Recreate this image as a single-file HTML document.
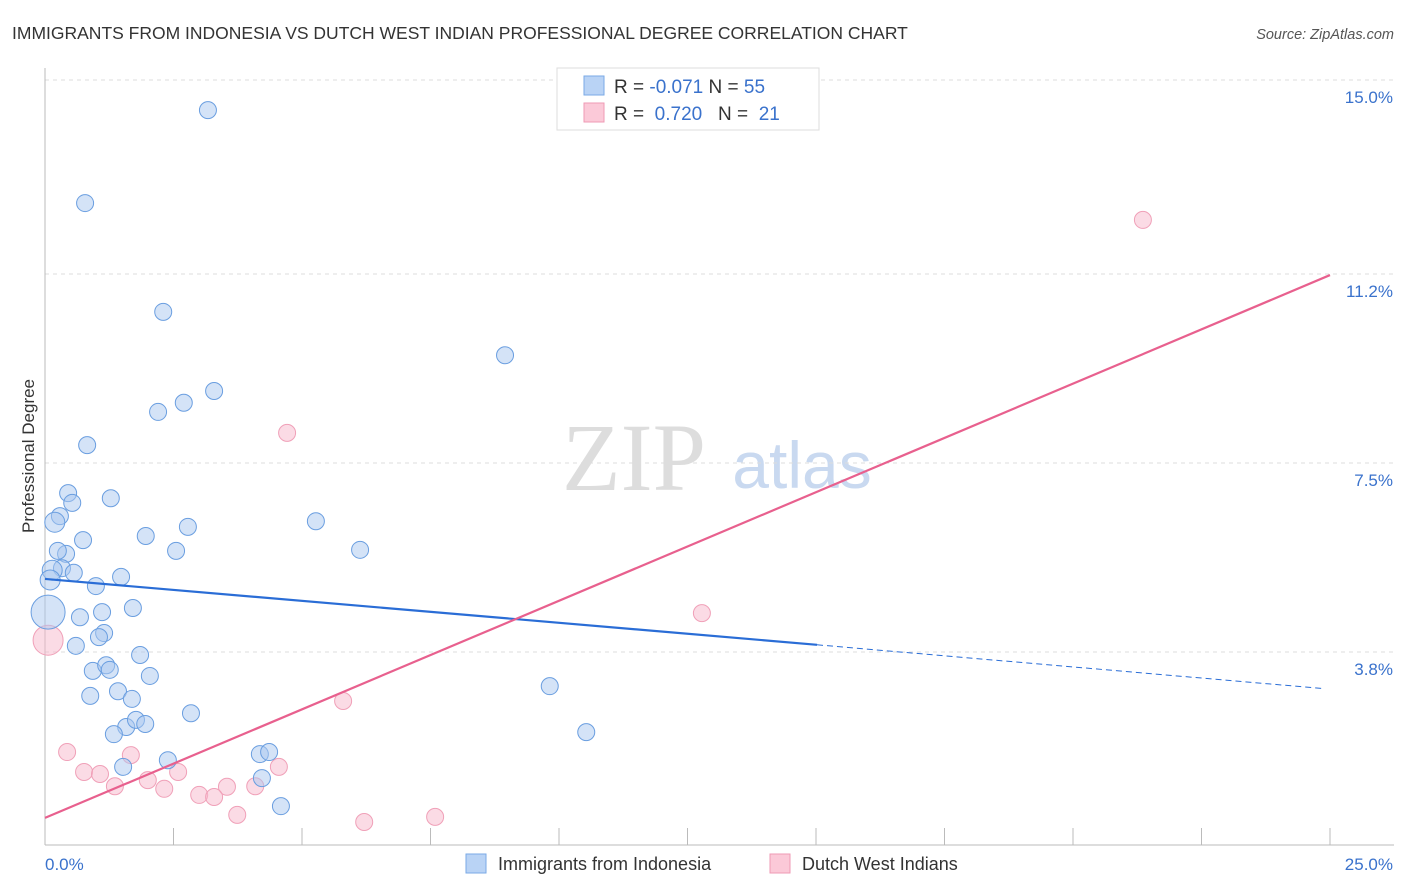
<!DOCTYPE html>
<html><head><meta charset="utf-8"><style>
body{margin:0;background:#fff;font-family:"Liberation Sans",sans-serif;}
svg{display:block}
</style></head><body>
<svg id="chart" width="1406" height="892" xmlns="http://www.w3.org/2000/svg">
<text x="12" y="39" font-size="17.5" fill="#333">IMMIGRANTS FROM INDONESIA VS DUTCH WEST INDIAN PROFESSIONAL DEGREE CORRELATION CHART</text>
<text x="1394" y="39" font-size="14.5" fill="#555" font-style="italic" text-anchor="end">Source: ZipAtlas.com</text>
<g>
<text x="634" y="490" font-size="96" fill="#ddd" font-family="Liberation Serif,serif" text-anchor="middle">ZIP</text>
<text x="802" y="488" font-size="66" fill="#c9d9f0" text-anchor="middle">atlas</text>
</g>
<g id="grid"></g>
<g id="axes"></g>
<g id="pts"></g>
<g id="lines"></g>
<text transform="translate(34,456) rotate(-90)" font-size="17" fill="#333" text-anchor="middle">Professional Degree</text>
<g>
<rect x="557" y="68" width="262" height="62" fill="#fff" stroke="#ddd"/>
<rect x="584" y="76" width="20" height="19" fill="#b9d3f5" stroke="#7aaae6"/>
<rect x="584" y="103" width="20" height="19" fill="#fbc9d8" stroke="#ef9ab4"/>
<text x="614" y="93" font-size="19" fill="#333">R = <tspan fill="#3a72cc">-0.071</tspan>   N = <tspan fill="#3a72cc">55</tspan></text>
<text x="614" y="120" font-size="19" fill="#333" xml:space="preserve">R =  <tspan fill="#3a72cc">0.720</tspan>   N =  <tspan fill="#3a72cc">21</tspan></text>
</g>
<g>
<rect x="466" y="854" width="20" height="19" fill="#b9d3f5" stroke="#7aaae6"/>
<text x="498" y="870" font-size="18" fill="#333">Immigrants from Indonesia</text>
<rect x="770" y="854" width="20" height="19" fill="#fbc9d8" stroke="#ef9ab4"/>
<text x="802" y="870" font-size="18" fill="#333">Dutch West Indians</text>
</g>
</svg>
<script>
const yTicks=[15.0,11.2,7.5,3.8];
const yTickLabels=["15.0%","11.2%","7.5%","3.8%"];
const xTickValues=[0,2.5,5,7.5,10,12.5,15,17.5,20,22.5,25];
const xEndLabels=["0.0%","25.0%"];
const blueX=[3.17,0.78,2.30,8.95,3.29,2.20,2.70,0.82,0.45,0.53,1.28,0.29,0.19,2.78,5.27,0.74,1.96,0.41,0.25,2.55,6.13,0.33,0.56,0.14,1.48,0.99,0.10,0.06,0.68,1.11,1.71,1.15,1.05,0.60,1.85,0.93,1.19,1.26,2.04,0.88,1.42,1.69,9.82,2.84,1.58,1.77,1.95,1.34,10.53,2.39,4.18,4.36,1.52,4.22,4.59];
const blueY=[14.41,12.59,10.46,9.61,8.91,8.50,8.68,7.85,6.91,6.72,6.81,6.46,6.34,6.25,6.36,5.99,6.07,5.72,5.78,5.78,5.80,5.44,5.35,5.40,5.27,5.09,5.21,4.58,4.48,4.58,4.66,4.17,4.09,3.92,3.74,3.43,3.54,3.45,3.33,2.94,3.03,2.88,3.13,2.60,2.33,2.47,2.39,2.19,2.23,1.68,1.80,1.84,1.55,1.33,0.78];
const blueR=[8.5,8.5,8.5,8.5,8.5,8.5,8.5,8.5,8.5,8.5,8.5,8.5,10,8.5,8.5,8.5,8.5,8.5,8.5,8.5,8.5,8.5,8.5,10,8.5,8.5,10,17,8.5,8.5,8.5,8.5,8.5,8.5,8.5,8.5,8.5,8.5,8.5,8.5,8.5,8.5,8.5,8.5,8.5,8.5,8.5,8.5,8.5,8.5,8.5,8.5,8.5,8.5,8.5];
const pinkX=[21.36,4.71,12.78,0.06,5.80,0.43,1.67,0.76,1.07,4.55,2.00,2.59,1.36,2.32,3.54,4.09,3.00,3.29,3.74,6.21,7.59];
const pinkY=[12.26,8.09,4.56,4.03,2.84,1.84,1.78,1.45,1.41,1.55,1.29,1.45,1.17,1.12,1.16,1.17,1.00,0.96,0.61,0.47,0.57];
const pinkR=[8.5,8.5,8.5,15,8.5,8.5,8.5,8.5,8.5,8.5,8.5,8.5,8.5,8.5,8.5,8.5,8.5,8.5,8.5,8.5,8.5];
const blueTrend=[5.23,3.94,3.08]; // at x=0, 15.02, 24.9
const blueTrendX=[0,15.02,24.9];
const pinkTrend=[0.55,11.18];
const pinkTrendX=[0,25];

const X0=45,X1=1330,YB=846,YT=80;
const sx=v=>X0+(X1-X0)*v/25;
const sy=v=>YB-(YB-YT)*v/15;
const NS="http://www.w3.org/2000/svg";
function mk(tag,parent,attrs){const e=document.createElementNS(NS,tag);for(const k in attrs)e.setAttribute(k,attrs[k]);parent.appendChild(e);return e;}
const grid=document.getElementById('grid'),axes=document.getElementById('axes'),pts=document.getElementById('pts'),lines=document.getElementById('lines');
yTicks.forEach((t,i)=>{
 const l=mk('line',grid,{x1:X0,x2:1394,y1:sy(t),y2:sy(t),stroke:'#ddd','stroke-dasharray':'4,4'});
 
 
 const tx=mk('text',grid,{x:1393,y:sy(t)+23,'font-size':17,fill:'#3a72cc','text-anchor':'end'});
 tx.textContent=yTickLabels[i];
 
 
});
const ax=mk('line',axes,{x1:X0,x2:1394,y1:845,y2:845,stroke:'#bbb'});


const ay=mk('line',axes,{x1:X0,x2:X0,y1:68,y2:845,stroke:'#bbb'});


xTickValues.forEach(t=>{
 const l=mk('line',axes,{x1:sx(t),x2:sx(t),y1:828,y2:845,stroke:'#bbb'});
 
 
});
const xl0=mk('text',axes,{x:45,y:870,'font-size':17,fill:'#3a72cc'});xl0.textContent=xEndLabels[0];


const xl1=mk('text',axes,{x:1393,y:870,'font-size':17,fill:'#3a72cc','text-anchor':'end'});xl1.textContent=xEndLabels[1];


pinkX.forEach((v,i)=>{
 const c=mk('circle',pts,{cx:sx(v),cy:sy(pinkY[i]),r:pinkR[i],fill:'rgba(248,184,204,0.5)',stroke:'#f0a0b8','stroke-width':1});
 
 
});
blueX.forEach((v,i)=>{
 const c=mk('circle',pts,{cx:sx(v),cy:sy(blueY[i]),r:blueR[i],fill:'rgba(170,200,240,0.5)',stroke:'#6a9ee0','stroke-width':1});
 
 
});
const bl=mk('line',lines,{x1:sx(blueTrendX[0]),y1:sy(blueTrend[0]),x2:sx(blueTrendX[1]),y2:sy(blueTrend[1]),stroke:'#2a6dd6','stroke-width':2.2});


const bd=mk('line',lines,{x1:sx(blueTrendX[1]),y1:sy(blueTrend[1]),x2:sx(blueTrendX[2]),y2:sy(blueTrend[2]),stroke:'#2a6dd6','stroke-width':1,'stroke-dasharray':'6,4'});


const pl=mk('line',lines,{x1:sx(pinkTrendX[0]),y1:sy(pinkTrend[0]),x2:sx(pinkTrendX[1]),y2:sy(pinkTrend[1]),stroke:'#e8608e','stroke-width':2.2});


</script>
</body></html>
